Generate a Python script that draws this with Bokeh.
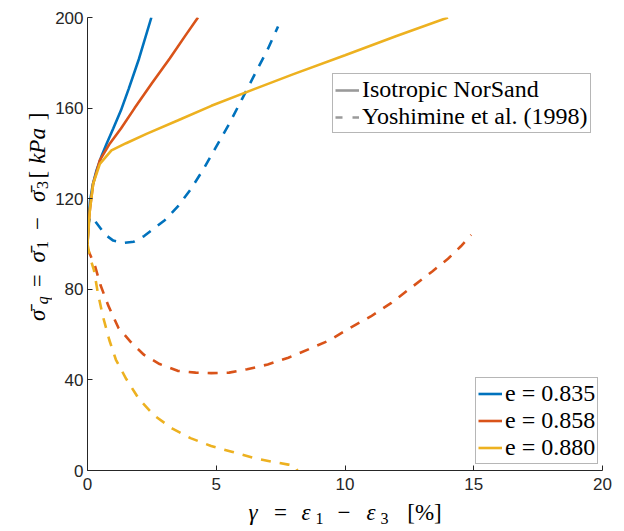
import math
from bokeh.plotting import figure
from bokeh.models import Legend, LegendItem, Range1d, FixedTicker
from bokeh.layouts import row, column
from bokeh.core.properties import value
from bokeh.embed import file_html
from bokeh.resources import INLINE

# ---------------- data ----------------
void_ratios = ["e = 0.835", "e = 0.858", "e = 0.880"]
colors = ["#0072BD", "#D95319", "#EDB120"]

# Isotropic NorSand (solid)
ns835_x = [0, 0.05, 0.1, 0.2, 0.35, 0.55, 0.75, 1.0, 1.3, 1.6, 2.0, 2.48]
ns835_y = [100, 112, 119, 126, 132.5, 139, 144.5, 151, 159, 168.5, 181.8, 200]
ns858_x = [0, 0.05, 0.1, 0.22, 0.48, 0.87, 1.3, 1.83, 2.5, 3.2, 3.8, 4.29]
ns858_y = [100, 110, 116, 126.7, 137, 144.4, 151, 160, 171, 182, 192, 200]
ns880_x = [0, 0.05, 0.09, 0.22, 0.48, 0.93, 1.5, 2.29, 3.5, 4.81, 6.5, 8.0, 10.0, 12.0, 14.0]
ns880_y = [100, 108, 114.8, 126.6, 135.4, 141.3, 144.5, 148.6, 154.5, 161, 168.5, 175, 183.3, 191.8, 200]

# Yoshimine et al. (1998) (dashed)
yo835_x = [0, 0.1, 0.3, 0.7, 1.0, 1.4, 1.8, 2.2, 2.6, 3.0, 3.5, 4.0, 4.5, 5.0, 5.5, 6.0, 6.5, 7.0, 7.4]
yo835_y = [107, 112, 110, 104, 101.5, 100.5, 101, 103.5, 107, 110.5, 116.5, 124, 133, 143, 153, 164, 175, 186, 196]
yo858_x = [0, 0.15, 0.3, 0.5, 0.8, 1.2, 1.7, 2.2, 2.8, 3.5, 4.2, 4.8, 5.5, 6.2, 7.0, 7.8, 8.6, 9.4,
           10.2, 11.0, 11.8, 12.6, 13.4, 14.0, 14.5, 14.9]
yo858_y = [98, 94, 90, 82, 73, 63, 56.5, 51, 47, 44, 43.2, 43, 43.2, 44.7, 46.8, 49.8, 53.6, 57.5,
           63, 68, 74, 81, 88, 93.5, 99, 104]
yo880_x = [0, 0.1, 0.25, 0.4, 0.6, 0.85, 1.1, 1.5, 2.0, 2.6, 3.3, 4.0, 4.8, 5.6, 6.4, 7.2, 7.8, 8.05, 8.15]
yo880_y = [100, 94, 88.5, 78.5, 68, 57.5, 49, 40.5, 31.5, 24.2, 18.5, 14.3, 10.8, 8.3, 5.7, 3.8, 2.6, 2.0, 0]

x_ticks = [0, 5, 10, 15, 20]
y_ticks = [0, 40, 80, 120, 160, 200]

solid_x = [ns835_x, ns858_x, ns880_x]
solid_y = [ns835_y, ns858_y, ns880_y]
dash_x = [yo835_x, yo858_x, yo880_x]
dash_y = [yo835_y, yo858_y, yo880_y]

# ---------------- main figure ----------------
YW = 52   # width of the y-label strip
XH = 32   # height of the x-label strip
MAIN_H = 531 - XH
p = figure(width=624 - YW, height=MAIN_H, output_backend="svg", toolbar_location=None,
           x_range=Range1d(0, 20), y_range=Range1d(0, 200),
           min_border_left=86 - YW, min_border_right=22, min_border_top=17,
           min_border_bottom=MAIN_H - 470)
p.outline_line_color = None
p.xgrid.visible = False
p.ygrid.visible = False

for ax in (p.xaxis[0], p.yaxis[0]):
    ax.axis_line_color = "#262626"
    ax.axis_line_width = 1
    ax.major_tick_line_color = "#262626"
    ax.major_tick_in = 5
    ax.major_tick_out = 0
    ax.minor_tick_line_color = None
    ax.major_label_text_font = "Liberation Sans"
    ax.major_label_text_font_size = "17px"
    ax.major_label_text_color = "#262626"
p.xaxis.ticker = FixedTicker(ticks=x_ticks)
p.yaxis.ticker = FixedTicker(ticks=y_ticks)
p.xaxis.major_label_standoff = 7
p.yaxis.major_label_standoff = 4

solid_renderers = []
for i in range(3):
    r = p.line(solid_x[i], solid_y[i], line_color=colors[i], line_width=2.6)
    p.line(dash_x[i], dash_y[i], line_color=colors[i], line_width=2.6, line_dash="10 9")
    solid_renderers.append(r)

# legend-only renderers (kept outside the visible ranges)
r_iso = p.line([-5, -4], [-50, -50], line_color="#9a9a9a", line_width=2.6)
r_yos = p.line([-5, -4], [-50, -50], line_color="#9a9a9a", line_width=2.6, line_dash="7 10")

def style_legend(leg):
    leg.label_text_font = "Liberation Serif"
    leg.label_text_font_size = "24px"
    leg.label_text_color = "black"
    leg.border_line_color = "#6e6e6e"
    leg.border_line_width = 1
    leg.background_fill_color = "white"
    leg.background_fill_alpha = 1
    leg.padding = 2
    leg.spacing = 0
    leg.margin = 0
    leg.glyph_width = 24
    leg.glyph_height = 26
    leg.label_height = 26
    leg.label_standoff = 3

leg1 = Legend(items=[LegendItem(label="Isotropic NorSand", renderers=[r_iso]),
                     LegendItem(label="Yoshimine et al. (1998)", renderers=[r_yos])],
              location=(245, 337))
style_legend(leg1)
p.add_layout(leg1)

leg2 = Legend(items=[LegendItem(label=void_ratios[i], renderers=[solid_renderers[i]]) for i in range(3)],
              location=(388, 6))
style_legend(leg2)
leg2.glyph_height = 27
leg2.label_height = 27
p.add_layout(leg2)

# ---------------- label strips ----------------
def strip(w, h):
    f = figure(width=w, height=h, output_backend="svg", toolbar_location=None,
               x_range=Range1d(0, w), y_range=Range1d(0, h),
               x_axis_type=None, y_axis_type=None,
               min_border_left=0, min_border_right=0, min_border_top=0, min_border_bottom=0)
    f.outline_line_color = None
    f.xgrid.visible = False
    f.ygrid.visible = False
    return f

def put(f, x, y, txt, size="23px", style="normal", angle=0.0):
    f.text(x=[x], y=[y], text=[txt], angle=angle, text_font=value("Liberation Serif"),
           text_font_size=value(size), text_font_style=value(style), text_color="black",
           text_align=value("center"), text_baseline=value("middle"))

# y label: sigma_q = sigma_1 - sigma_3 [kPa], rotated, in a strip at the left
yl = strip(YW, MAIN_H)
H = MAIN_H
a = math.pi / 2
bx, sx = 36.5, 42.0     # text centre columns (main text / subscripts)
put(yl, bx, H - 328, "σ\u0304", style="italic", angle=a)
put(yl, sx, H - 311.5, "q", size="16px", style="italic", angle=a)
put(yl, bx, H - 290, "=", angle=a)
put(yl, bx, H - 263.5, "σ\u0304", style="italic", angle=a)
put(yl, sx, H - 250.5, "1", size="16px", angle=a)
put(yl, bx, H - 227, "−", angle=a)
put(yl, bx, H - 197, "σ\u0304", style="italic", angle=a)
put(yl, sx, H - 184.5, "3", size="16px", angle=a)
put(yl, bx, H - 173, "[", angle=a)
put(yl, bx, H - 141.5, "kPa", style="italic", angle=a)
put(yl, bx, H - 109, "]", angle=a)

# x label: gamma = eps_1 - eps_3 [%], in a strip at the bottom
xl = strip(624, XH)
top = 531 - XH
xb, xs = XH - (512.0 - top), XH - (518.0 - top)   # text centre rows (main text / subscripts)
put(xl, 252.5, xb, "γ", style="italic")
put(xl, 280, xb, "=")
put(xl, 305.5, xb, "ε", style="italic")
put(xl, 319, xs, "1", size="16px")
put(xl, 343.5, xb, "−")
put(xl, 370.5, xb, "ε", style="italic")
put(xl, 384, xs, "3", size="16px")
put(xl, 424, xb, "[%]")

layout = column(row(yl, p, spacing=0), xl, spacing=0)
open("out.html", "w").write(file_html(layout, INLINE))
